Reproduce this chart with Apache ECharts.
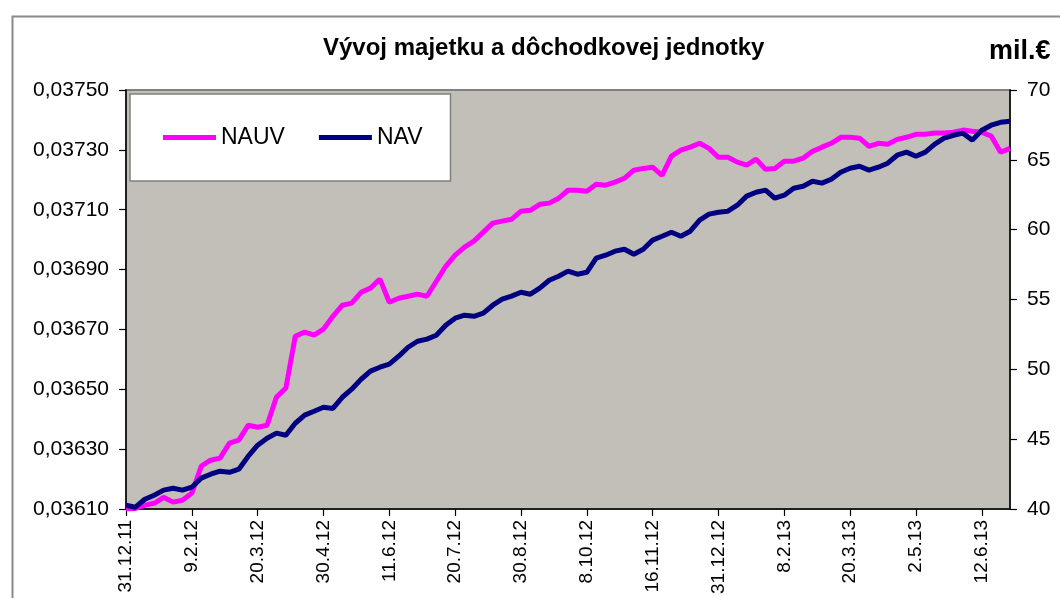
<!DOCTYPE html>
<html>
<head>
<meta charset="utf-8">
<script src="https://cdn.jsdelivr.net/npm/echarts@6/dist/echarts.min.js"></script>
<style>html,body{margin:0;padding:0;background:#fff;}#c{width:1060px;height:598px;}</style>
</head>
<body>
<div id="c"></div>
<script>
const tickLabels = ['31.12.11','9.2.12','20.3.12','30.4.12','11.6.12','20.7.12','30.8.12','8.10.12','16.11.12','31.12.12','8.2.13','20.3.13','2.5.13','12.6.13'];
const leftTicks = [0.0361, 0.0363, 0.0365, 0.0367, 0.0369, 0.0371, 0.0373, 0.0375];
const nauv = [
0.036100,0.036102,0.036113,0.036119,0.036139,0.036123,0.036129,0.036153,0.036243,0.036263,
0.036270,0.036320,0.036330,0.036380,0.036373,0.036380,0.036474,0.036504,0.036677,0.036691,
0.036681,0.036701,0.036744,0.036781,0.036788,0.036824,0.036838,0.036868,0.036791,0.036804,
0.036811,0.036818,0.036811,0.036861,0.036911,0.036948,0.036975,0.036995,0.037025,0.037055,
0.037062,0.037068,0.037095,0.037098,0.037118,0.037122,0.037138,0.037165,0.037165,0.037162,
0.037185,0.037182,0.037192,0.037205,0.037232,0.037238,0.037242,0.037215,0.037279,0.037299,
0.037309,0.037322,0.037305,0.037275,0.037275,0.037259,0.037249,0.037269,0.037235,0.037238,
0.037262,0.037262,0.037272,0.037295,0.037309,0.037322,0.037342,0.037342,0.037339,0.037312,
0.037322,0.037319,0.037335,0.037342,0.037352,0.037352,0.037356,0.037356,0.037359,0.037366,
0.037362,0.037359,0.037346,0.037292,0.037305
];
const nav = [
40.27,40.13,40.70,40.99,41.35,41.49,41.35,41.56,42.21,42.49,
42.71,42.63,42.85,43.78,44.57,45.07,45.43,45.28,46.14,46.72,
47.00,47.29,47.20,48.00,48.58,49.29,49.87,50.15,50.37,50.94,
51.58,52.01,52.16,52.44,53.16,53.66,53.88,53.80,54.02,54.59,
55.02,55.24,55.52,55.38,55.81,56.38,56.67,57.03,56.81,56.95,
57.96,58.17,58.46,58.60,58.24,58.60,59.25,59.53,59.82,59.53,
59.89,60.68,61.11,61.25,61.32,61.75,62.40,62.68,62.83,62.25,
62.47,62.97,63.11,63.47,63.33,63.61,64.11,64.40,64.54,64.26,
64.47,64.76,65.33,65.55,65.26,65.55,66.12,66.55,66.76,66.91,
66.41,67.12,67.48,67.69,67.77
];
const categories = nauv.map((_, i) => String(i));
const FONT = '"Liberation Sans", Arial, sans-serif';

const chart = echarts.init(document.getElementById('c'));
chart.setOption({
  animation: false,
  backgroundColor: '#ffffff',
  textStyle: { fontFamily: FONT },
  title: {
    text: 'Vývoj majetku a dôchodkovej jednotky',
    left: 318, top: 31,
    textStyle: { fontFamily: FONT, fontWeight: 'bold', fontSize: 24, color: '#000' }
  },
  graphic: [
    { type: 'rect', left: 10, top: 14, shape: { width: 1100, height: 700 }, style: { fill: 'none', stroke: '#8a8a8a', lineWidth: 2 }, z: -1 },
    { type: 'text', left: 989, top: 38, style: { text: 'mil.€', font: 'bold 27px ' + FONT, fill: '#000' } }
  ],
  legend: {
    left: 130, top: 94,
    orient: 'horizontal',
    backgroundColor: '#ffffff',
    borderColor: '#808080', borderWidth: 1.5, borderRadius: 0,
    padding: [32, 28, 32, 33],
    itemWidth: 53, itemHeight: 5, itemGap: 34,
    icon: 'rect',
    textStyle: { fontFamily: FONT, fontSize: 23, color: '#000' },
    data: ['NAUV', 'NAV']
  },
  grid: {
    left: 126, right: 50, top: 90, bottom: 89,
    show: true, backgroundColor: '#C2BEB8', borderColor: '#808080', borderWidth: 2
  },
  xAxis: {
    type: 'category', data: categories, boundaryGap: false,
    axisLine: { lineStyle: { color: '#000', width: 1.5 } },
    axisTick: { interval: 6, length: 7, lineStyle: { color: '#000', width: 1.2 } },
    axisLabel: {
      interval: 6, rotate: 90, fontSize: 19, color: '#000', margin: 11, fontFamily: FONT,
      formatter: (v, idx) => tickLabels[Math.round(idx / 7)] || ''
    },
    splitLine: { show: false }
  },
  yAxis: [
    {
      type: 'value', min: 0.0361, max: 0.0375, position: 'left',
      axisLine: { show: true, lineStyle: { color: '#000', width: 1.5 } },
      axisTick: { show: true, length: 7, customValues: leftTicks, lineStyle: { color: '#000', width: 1.2 } },
      axisLabel: { customValues: leftTicks, fontSize: 21, color: '#000', margin: 17, fontFamily: FONT,
        formatter: v => v.toFixed(5).replace('.', ',') },
      splitLine: { show: false }
    },
    {
      type: 'value', min: 40, max: 70, interval: 5, position: 'right',
      axisLine: { show: true, lineStyle: { color: '#000', width: 1.5 } },
      axisTick: { show: true, length: 7, lineStyle: { color: '#000', width: 1.2 } },
      axisLabel: { fontSize: 21, color: '#000', margin: 17, fontFamily: FONT },
      splitLine: { show: false }
    }
  ],
  series: [
    { name: 'NAUV', type: 'line', yAxisIndex: 0, data: nauv, showSymbol: false, symbol: 'none',
      itemStyle: { color: '#FF00FF' }, lineStyle: { color: '#FF00FF', width: 5 } },
    { name: 'NAV', type: 'line', yAxisIndex: 1, data: nav, showSymbol: false, symbol: 'none',
      itemStyle: { color: '#000080' }, lineStyle: { color: '#000080', width: 5 } }
  ]
});
</script>
</body>
</html>
